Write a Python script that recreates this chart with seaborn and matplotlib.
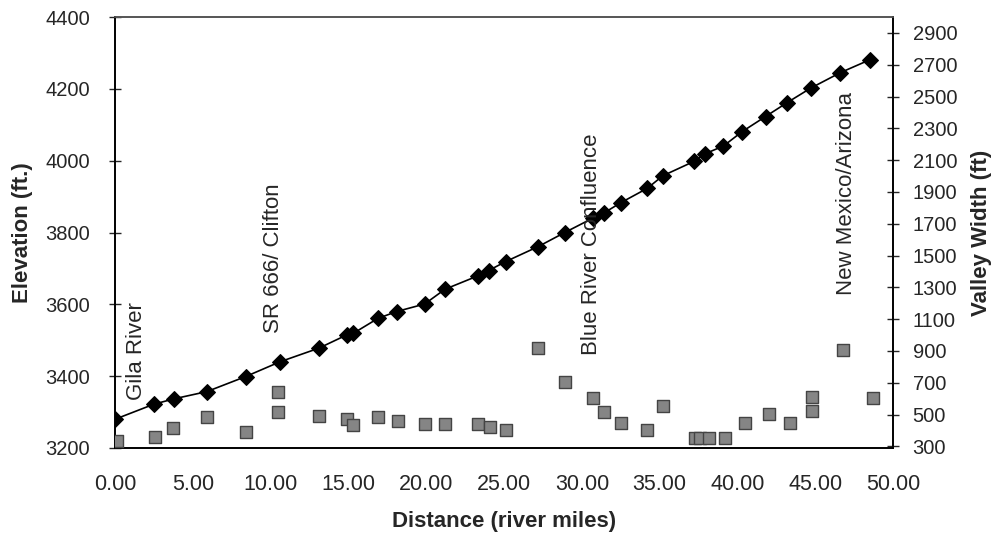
import numpy as np
import pandas as pd
import seaborn as sns
import matplotlib.pyplot as plt
from matplotlib.ticker import FormatStrFormatter

# river profile (elevation) along the reach
dist = [0.0, 2.5, 3.8, 5.9, 8.4, 10.6, 13.1, 14.9, 15.3, 16.9, 18.1, 19.9, 21.2,
        23.3, 24.0, 25.1, 27.2, 28.9, 30.7, 31.4, 32.5, 34.2, 35.2, 37.2, 37.9,
        39.1, 40.3, 41.8, 43.2, 44.7, 46.6, 48.5]
elev = [3280, 3322, 3337, 3357, 3399, 3440, 3478, 3515, 3519, 3561, 3580, 3601,
        3642, 3679, 3694, 3719, 3761, 3800, 3840, 3854, 3883, 3923, 3958, 3998,
        4019, 4041, 4081, 4123, 4162, 4202, 4245, 4281]

# valley width measurements
wdist = [0.1, 2.6, 3.7, 5.9, 8.4, 10.5, 10.5, 13.1, 14.9, 15.3, 16.9, 18.2, 19.9,
         21.2, 23.3, 24.1, 25.1, 27.2, 28.9, 30.7, 31.4, 32.5, 34.2, 35.2, 37.3,
         37.6, 38.2, 39.2, 40.5, 42.0, 43.4, 44.8, 44.8, 46.8, 48.7]
width = [336, 357, 418, 487, 393, 645, 519, 492, 471, 435, 487, 462, 441, 441,
         441, 424, 403, 918, 708, 603, 519, 446, 403, 555, 351, 351, 351, 351,
         449, 502, 446, 609, 525, 907, 603]

# landmarks: (label, river mile, elevation at text base)
marks = ["Gila River", "SR 666/ Clifton", "Blue River Confluence", "New Mexico/Arizona"]
mark_x = [1.4, 10.2, 30.6, 47.0]
mark_y = [3334, 3520, 3459, 3626]

prof = pd.DataFrame({"dist": dist, "elev": elev})
vw = pd.DataFrame({"dist": wdist, "width": width})

sns.set_style("white")
plt.rcParams["font.family"] = ["Liberation Sans", "DejaVu Sans"]

fig = plt.figure(figsize=(9.95, 5.33), dpi=100)
ax = fig.add_axes([0.1156, 0.1595, 0.782, 0.8085])

sns.lineplot(data=prof, x="dist", y="elev", ax=ax, color="black", linewidth=1.2,
             marker="D", markersize=8, markeredgecolor="black", markerfacecolor="black")
ax.set_xlim(0, 50)
ax.set_ylim(3200, 4400)
ax.set_xticks(np.arange(0, 51, 5))
ax.set_yticks(np.arange(3200, 4401, 200))
ax.xaxis.set_major_formatter(FormatStrFormatter("%.2f"))
ax.set_xlabel("Distance (river miles)", fontsize=16, fontweight="bold", labelpad=11)
ax.set_ylabel("Elevation (ft.)", fontsize=16, fontweight="bold", labelpad=9)
ax.tick_params(axis="x", direction="inout", length=8, width=1, labelsize=15.5, pad=15)
ax.tick_params(axis="y", direction="inout", length=8, width=1, labelsize=14.5, pad=14)

for lab, mx, my in zip(marks, mark_x, mark_y):
    ax.text(mx, my, lab, rotation=90, ha="center", va="bottom", fontsize=16)

ax2 = ax.twinx()
sns.scatterplot(data=vw, x="dist", y="width", ax=ax2, marker="s", s=85,
                color="#858585", edgecolor="#444444", linewidth=1, zorder=3)
ax2.set_ylim(290, 3000)
ax2.set_yticks(np.arange(300, 2901, 200))
ax2.set_ylabel("Valley Width (ft)", fontsize=16, fontweight="bold", labelpad=10)
ax2.tick_params(axis="y", direction="inout", length=8, width=1, labelsize=14.5, pad=10)
ax2.set_xlim(0, 50)

for a in (ax, ax2):
    for sp in a.spines.values():
        sp.set_color("black")
        sp.set_linewidth(1.2)
ax.spines["top"].set_color("#555555")
ax2.spines["top"].set_color("#555555")

fig.savefig("out.png", dpi=100)
